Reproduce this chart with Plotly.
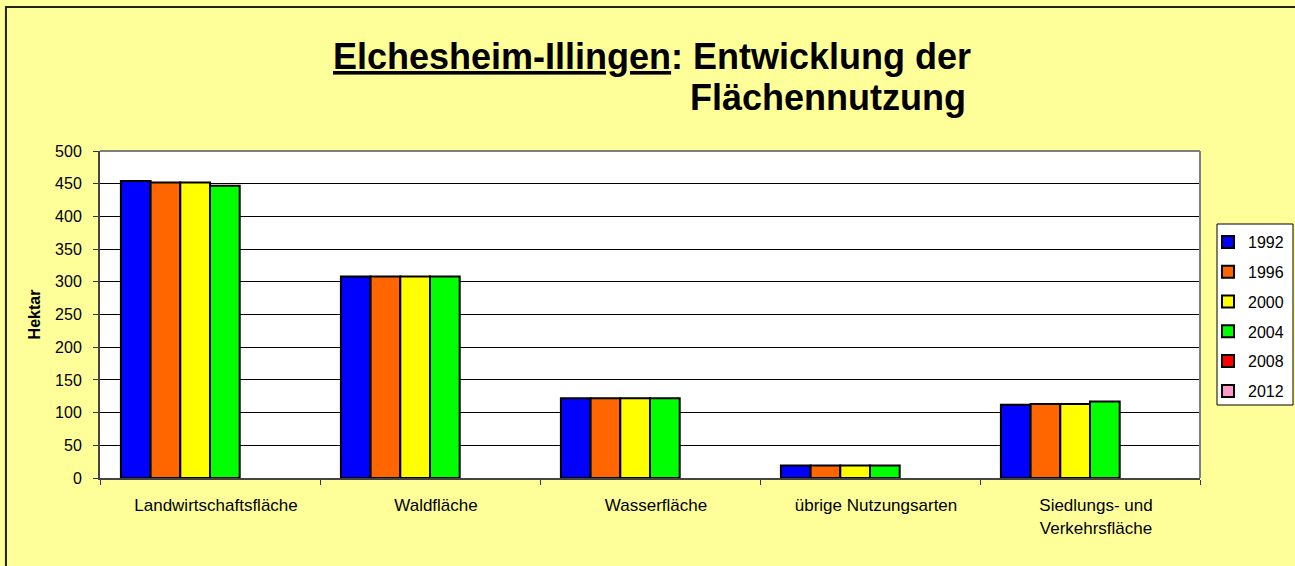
import plotly.graph_objects as go

categories = ["Landwirtschaftsfläche", "Waldfläche", "Wasserfläche",
              "übrige Nutzungsarten", "Siedlungs- und<br>Verkehrsfläche"]
years = ["1992", "1996", "2000", "2004", "2008", "2012"]
v1992 = [454, 308, 122, 19, 112]
v1996 = [452, 308, 122, 19, 113]
v2000 = [452, 308, 122, 19, 113]
v2004 = [447, 308, 122, 19, 117]
v2008 = [None, None, None, None, None]
v2012 = [None, None, None, None, None]
series = [v1992, v1996, v2000, v2004, v2008, v2012]
colors = ["#0000FF", "#FF6600", "#FFFF00", "#00FF00", "#FF0000", "#FF99CC"]
title_line1 = "<b><u>Elchesheim-Illingen</u>: Entwicklung der</b>"
title_line2 = "<b>Flächennutzung</b>"

fig = go.Figure()
for yr, vals, col in zip(years, series, colors):
    fig.add_trace(go.Bar(
        x=categories, y=vals, name=yr, legendgroup=yr,
        marker=dict(color=col, line=dict(color="#000000", width=2)),
    ))

FONT = "Arial, Liberation Sans, sans-serif"
fig.update_layout(
    width=1295, height=566,
    barmode="group", bargap=0.19, bargroupgap=0,
    paper_bgcolor="#FFFF99", plot_bgcolor="#FFFFFF",
    margin=dict(l=100, r=95, t=151, b=88, autoexpand=False),
    font=dict(family=FONT, color="#000000", size=16),
    showlegend=True,
    legend=dict(
        x=(1208 - 100) / 1100, y=0.4939, xanchor="left", yanchor="middle",
        bgcolor="rgba(0,0,0,0)", borderwidth=0,
        font=dict(family=FONT, size=16, color="#000000"),
        traceorder="grouped", tracegroupgap=6,
        itemwidth=30,
    ),
    xaxis=dict(
        type="category", tickson="boundaries", ticks="outside", ticklen=5,
        tickcolor="#333333", showgrid=False, showline=True, linecolor="#444444",
        linewidth=2, tickfont=dict(size=17, family=FONT),
        ticklabelstandoff=11, ticklabelshift=6,
    ),
    yaxis=dict(
        range=[0, 500], dtick=50, ticks="outside", ticklen=5, tickcolor="#333333",
        showgrid=True, gridcolor="#000000", gridwidth=1,
        showline=True, linecolor="#444444", linewidth=2,
        tickfont=dict(size=16, family=FONT), ticklabelstandoff=8,
        title=dict(text="<b>Hektar</b>", font=dict(size=16, family=FONT), standoff=10),
        zeroline=False,
    ),
    annotations=[
        dict(text=title_line1, xref="paper", yref="paper", x=(973 - 100) / 1100,
             y=1.2875, xanchor="right", yanchor="middle", showarrow=False,
             font=dict(size=36, family=FONT, color="#000000")),
        dict(text=title_line2, xref="paper", yref="paper", x=(968 - 100) / 1100,
             y=1.1651, xanchor="right", yanchor="middle", showarrow=False,
             font=dict(size=36, family=FONT, color="#000000")),
    ],
    shapes=[
        dict(type="rect", xref="paper", yref="paper", x0=-0.0855, y0=-0.5,
             x1=1.2, y1=1.4404, line=dict(color="#222222", width=2), layer="below"),
        dict(type="line", xref="paper", yref="paper", x0=0, x1=1, y0=1, y1=1,
             line=dict(color="#808080", width=2)),
        dict(type="line", xref="paper", yref="paper", x0=1, x1=1, y0=0, y1=1,
             line=dict(color="#808080", width=2)),
        dict(type="rect", xref="paper", yref="paper",
             x0=(1217 - 100) / 1100, x1=(1293 - 100) / 1100,
             y0=(478 - 405) / 327, y1=(478 - 224) / 327,
             fillcolor="#FFFFFF", line=dict(color="#000000", width=1), layer="above"),
    ],
)

fig.write_html("out.html", config={"displayModeBar": False},
               post_script="document.body.style.margin='0';")
